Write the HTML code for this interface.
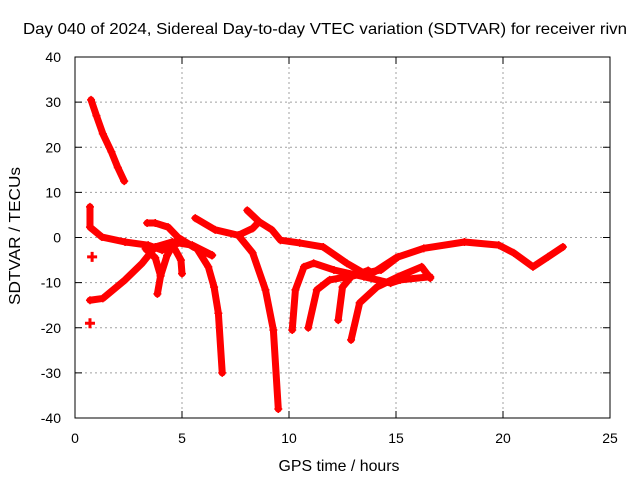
<!DOCTYPE html>
<html><head><meta charset="utf-8"><style>
body{margin:0;background:#fff;}
svg{display:block;font-family:"Liberation Sans",sans-serif;}
</style></head><body>
<svg id="chart" width="640" height="480">
<rect width="640" height="480" fill="#fff"/>
<text x="325" y="34" text-anchor="middle" font-size="16" textLength="604" lengthAdjust="spacingAndGlyphs">Day 040 of 2024, Sidereal Day-to-day VTEC variation (SDTVAR) for receiver rivn</text>
<text x="339" y="471" text-anchor="middle" font-size="16" textLength="121" lengthAdjust="spacingAndGlyphs">GPS time / hours</text>
<text transform="translate(20,236) rotate(-90)" text-anchor="middle" font-size="16" textLength="138" lengthAdjust="spacingAndGlyphs">SDTVAR / TECUs</text>
<g id="grid"></g><g id="ticks"></g><g id="series"></g>
<rect x="75" y="57" width="535" height="361" fill="none" stroke="#000" stroke-width="1"/>
</svg>
<script>
const xTicks=[0,5,10,15,20,25];
const yTicks=[-40,-30,-20,-10,0,10,20,30,40];
const s1=[[0.75,30.5],[1.0,27],[1.3,23],[1.7,19],[2.0,15.5],[2.3,12.5]];
const s2=[[0.7,6.8],[0.7,2.3],[1.26,0.1],[2.34,-1],[3.42,-1.7],[4.07,-2.8],[4.82,-1.2],[5.48,-1.7],[6.41,-3.9]];
const s3=[[0.7,-13.9],[1.3,-13.5],[2.34,-9.4],[3.14,-5.7],[3.75,-2.1],[4.54,-1],[5.15,-1],[5.7,-2.5],[6.23,-6.5],[6.5,-11],[6.7,-16.8],[6.88,-30]];
const s4=[[3.37,3.2],[3.75,3.2],[4.35,2.3],[4.82,0],[5.5,-2],[6.4,-4]];
const s5=[[3.3,-2.5],[3.75,-4.5],[4.0,-8.5],[3.85,-12.5]];
const s6=[[4.6,-1.5],[4.3,-4],[4.0,-8.5]];
const s6b=[[4.6,-2],[4.95,-5],[5.0,-8]];
const s7=[[5.62,4.3],[6.55,1.7],[7.63,0.5],[8.3,2],[8.6,3.5]];
const s8=[[7.63,0.5],[8.3,-3.4],[8.9,-11.6],[9.27,-20.5],[9.5,-38]];
const s9=[[8.05,6],[8.6,3.5],[9.2,1.7],[9.6,-0.6],[10.5,-1.2],[11.6,-2.1],[12.7,-5.7],[13.5,-7.9],[14.3,-7.2],[15.1,-4.3],[16.3,-2.4],[18.2,-1],[19.8,-1.7],[20.5,-3.4],[21.4,-6.5],[22.1,-4.3],[22.8,-2.1]];
const a1=[[10.15,-20.5],[10.3,-11.6],[10.7,-6.5],[11.15,-5.7],[12.1,-7.2],[13.5,-8.7],[14.75,-10.1],[15.2,-9.4],[16.6,-8.7]];
const a2=[[10.9,-20],[11.3,-11.6],[11.9,-9.4],[12.7,-8.7],[14,-7.6],[15,-4.5]];
const a3=[[12.3,-18.3],[12.5,-11],[12.9,-8.7],[13.7,-7.3]];
const a4=[[12.9,-22.7],[13.3,-14.5],[14.1,-11],[15.1,-8.7],[16.2,-6.5],[16.6,-9]];
const dots=[[0.8,-4.3],[0.7,-19]];
const allSeries=[s1,s2,s3,s4,s5,s6,s6b,s7,s8,s9,a1,a2,a3,a4];
const X=h=>75+h*(535/25);
const Y=v=>237.5-v*(361/80);
const NS="http://www.w3.org/2000/svg";
function mk(t,a,p){const e=document.createElementNS(NS,t);for(const k in a)e.setAttribute(k,a[k]);p.appendChild(e);return e;}
const grid=document.getElementById('grid'),ticks=document.getElementById('ticks'),ser=document.getElementById('series');
xTicks.forEach(t=>{const x=X(t);
 if(t>0&&t<25){const l=mk('line',{x1:x,x2:x,y1:57,y2:418,stroke:'#a0a0a0','stroke-dasharray':'2,3'},grid);
 
 }
 mk('line',{x1:x,x2:x,y1:418,y2:411,stroke:'#000'},ticks);mk('line',{x1:x,x2:x,y1:57,y2:64,stroke:'#000'},ticks);
 const tx=mk('text',{x:x,y:443,'text-anchor':'middle','font-size':14},ticks);tx.textContent=t;
 
 });
yTicks.forEach(t=>{const y=Y(t);
 if(t>-40&&t<40){const l=mk('line',{x1:75,x2:610,y1:y,y2:y,stroke:'#a0a0a0','stroke-dasharray':'2,3'},grid);
 
 }
 mk('line',{x1:75,x2:82,y1:y,y2:y,stroke:'#000'},ticks);mk('line',{x1:610,x2:603,y1:y,y2:y,stroke:'#000'},ticks);
 const tx=mk('text',{x:61,y:y+5,'text-anchor':'end','font-size':14},ticks);tx.textContent=t;
 
 });
allSeries.forEach((s,i)=>{
 const p=mk('polyline',{points:s.map(d=>X(d[0])+','+Y(d[1])).join(' '),fill:'none',stroke:'#f00','stroke-width':7,'stroke-linejoin':'round','stroke-linecap':'round'},ser);
 
 
 s.forEach(d=>{const x=X(d[0]),y=Y(d[1]);
  const m=mk('path',{d:`M${x-4},${y}H${x+4}M${x},${y-4}V${y+4}`,stroke:'#f00','stroke-width':1.5},ser);
  
  });
});
dots.forEach(d=>{const x=X(d[0]),y=Y(d[1]);
 const m=mk('path',{d:`M${x-5},${y}H${x+5}M${x},${y-5}V${y+5}`,stroke:'#f00','stroke-width':3},ser);
 
 });
</script>
</body></html>
